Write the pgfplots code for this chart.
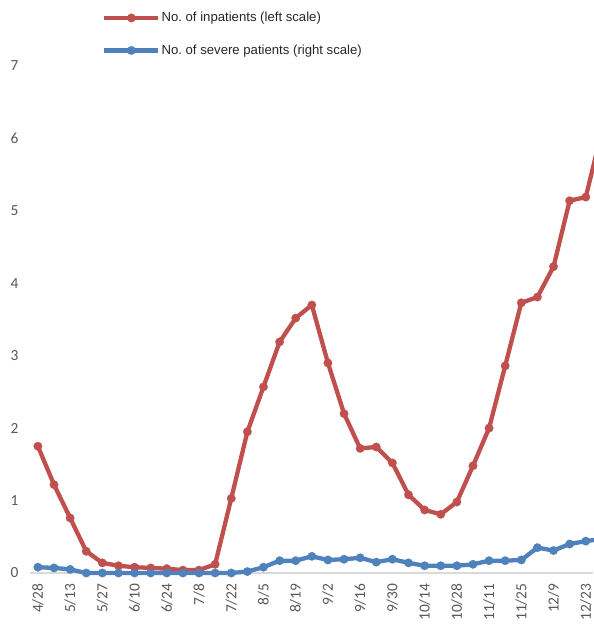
\documentclass[border=0pt]{standalone}
\usepackage{pgfplots}
\pgfplotsset{compat=1.18}
\usepackage{fontspec}
\setmainfont{Liberation Sans}
\newfontfamily\calibri{Carlito}
\definecolor{redline}{HTML}{C0504D}
\definecolor{blueline}{HTML}{4F81BD}
\definecolor{tickgray}{HTML}{595959}
\definecolor{axisgray}{HTML}{D9D9D9}
\frenchspacing
\begin{document}
\begin{tikzpicture}
\begin{axis}[
  scale only axis, width=563bp, height=507bp,
  xmin=-0.49, xmax=34.45, ymin=0, ymax=7,
  clip=false,
  axis line style={draw=none},
  ytick={0,1,...,7}, ytick style={draw=none},
  xtick={0,2,...,34},
  xticklabels={4/28,5/13,5/27,6/10,6/24,7/8,7/22,8/5,8/19,9/2,9/16,9/30,10/14,10/28,11/11,11/25,12/9,12/23},
  xtick style={draw=none},
  xticklabel shift=7bp,
  /pgf/number format/assume math mode=true,
  x tick label style={rotate=90, anchor=east, font=\calibri\fontsize{15.5}{15.5}\selectfont, text=tickgray},
  y tick label style={font=\calibri\fontsize{15.5}{15.5}\selectfont, text=tickgray, xshift=-8bp},
  extra y ticks={0}, extra y tick labels={},
  extra y tick style={grid=major, major grid style={draw=axisgray, line width=1.5bp}},
  legend style={draw=none, fill=none, at={(0.128,1.108)}, anchor=north west,
    font=\fontsize{13.2}{14}\selectfont, text=black!85, row sep=19.5bp, inner sep=0pt,
    nodes={inner sep=1pt}},
  legend cell align=left,
  legend image code/.code={\draw[#1,mark repeat=2,mark phase=2] plot coordinates {(0bp,0bp) (27bp,0bp) (54bp,0bp)};},
]
\addplot[redline, line width=4.3bp, mark=*, mark size=4.3bp, mark options={fill=redline, draw=redline, line width=0.1pt}] coordinates {
(0,1.75)(1,1.22)(2,0.76)(3,0.30)(4,0.14)(5,0.10)(6,0.08)(7,0.07)(8,0.06)(9,0.04)
(10,0.04)(11,0.12)(12,1.03)(13,1.95)(14,2.57)(15,3.19)(16,3.52)(17,3.70)(18,2.90)(19,2.20)
(20,1.72)(21,1.74)(22,1.52)(23,1.08)(24,0.87)(25,0.81)(26,0.98)(27,1.48)(28,2.00)(29,2.86)
(30,3.73)(31,3.81)(32,4.23)(33,5.14)(34,5.19)(35,6.10)};
\addlegendentry{No. of inpatients (left scale)}
\addplot[blueline, line width=4.3bp, mark=*, mark size=4.3bp, mark options={fill=blueline, draw=blueline, line width=0.1pt}] coordinates {
(0,0.08)(1,0.07)(2,0.05)(3,0.0)(4,0.0)(5,0.0)(6,0.0)(7,0.0)(8,0.0)(9,0.0)
(10,0.0)(11,0.0)(12,0.0)(13,0.02)(14,0.08)(15,0.17)(16,0.17)(17,0.23)(18,0.18)(19,0.19)
(20,0.21)(21,0.15)(22,0.19)(23,0.14)(24,0.10)(25,0.10)(26,0.10)(27,0.12)(28,0.17)(29,0.17)
(30,0.18)(31,0.35)(32,0.31)(33,0.40)(34,0.44)(35,0.47)};
\addlegendentry{No. of severe patients (right scale)}
\end{axis}
\pgfresetboundingbox
\path ([shift={(-30bp,-62bp)}]current axis.south west) rectangle ([shift={(0bp,66bp)}]current axis.north east);
\end{tikzpicture}
\end{document}
